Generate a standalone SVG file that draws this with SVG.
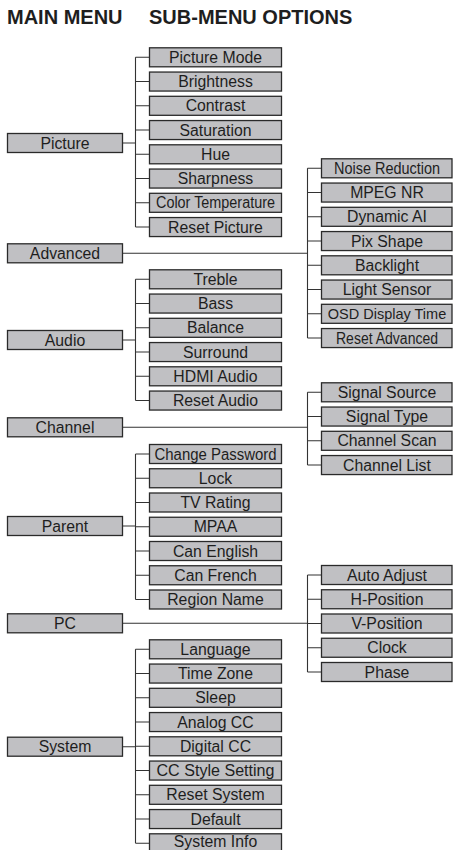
<svg xmlns="http://www.w3.org/2000/svg" width="453" height="850" viewBox="0 0 453 850">
<style>
.hdr{font-family:"Liberation Sans",Arial,sans-serif;font-weight:bold;font-size:20px;fill:#1e1e1e}
.box{fill:#c0c0c3;stroke:#2a2a2a;stroke-width:1.3}
.t{font-family:"Liberation Sans",Arial,sans-serif;font-size:15.8px;fill:#1e1e1e;text-anchor:middle}
.c{fill:none;stroke:#333;stroke-width:1.1}
</style>
<rect width="453" height="850" fill="#ffffff"/>
<text class="hdr" x="7" y="24">MAIN MENU</text>
<text class="hdr" x="149" y="24">SUB-MENU OPTIONS</text>

<g id="connectors">
<path class="c" d="M123 143H135.5M135.5 57.3V227.05M135.5 57.3H149M135.5 81.55H149M135.5 105.8H149M135.5 130.05H149M135.5 154.3H149M135.5 178.55H149M135.5 202.8H149M135.5 227.05H149"/>
<path class="c" d="M123 253.3H307.5M307.5 168.3V338.05M307.5 168.3H321M307.5 192.55H321M307.5 216.8H321M307.5 241.05H321M307.5 265.3H321M307.5 289.55H321M307.5 313.8H321M307.5 338.05H321"/>
<path class="c" d="M123 340H135.5M135.5 279.3V400.55M135.5 279.3H149M135.5 303.55H149M135.5 327.8H149M135.5 352.05H149M135.5 376.3H149M135.5 400.55H149"/>
<path class="c" d="M123 427.3H307.5M307.5 392.3V465.05M307.5 392.3H321M307.5 416.55H321M307.5 440.8H321M307.5 465.05H321"/>
<path class="c" d="M123 526H135.5M135.5 454V599.5M135.5 454H149M135.5 478.25H149M135.5 502.5H149M135.5 526.75H149M135.5 551H149M135.5 575.25H149M135.5 599.5H149"/>
<path class="c" d="M123 623.3H307.5M307.5 575V672M307.5 575H321M307.5 599.25H321M307.5 623.5H321M307.5 647.75H321M307.5 672H321"/>
<path class="c" d="M123 746.7H135.5M135.5 649.3V843.3M135.5 649.3H149M135.5 673.55H149M135.5 697.8H149M135.5 722.05H149M135.5 746.3H149M135.5 770.55H149M135.5 794.8H149M135.5 819.05H149M135.5 843.3H149"/>
</g>

<!-- Main menu -->
<g id="m-picture"><rect class="box" x="7.5" y="133.5" width="115" height="19"/><text class="t" x="65" y="148.5">Picture</text></g>
<g id="m-advanced"><rect class="box" x="7.5" y="243.8" width="115" height="19"/><text class="t" x="65" y="258.8">Advanced</text></g>
<g id="m-audio"><rect class="box" x="7.5" y="330.5" width="115" height="19"/><text class="t" x="65" y="345.5">Audio</text></g>
<g id="m-channel"><rect class="box" x="7.5" y="417.8" width="115" height="19"/><text class="t" x="65" y="432.8">Channel</text></g>
<g id="m-parent"><rect class="box" x="7.5" y="516.5" width="115" height="19"/><text class="t" x="65" y="531.5">Parent</text></g>
<g id="m-pc"><rect class="box" x="7.5" y="613.8" width="115" height="19"/><text class="t" x="65" y="628.8">PC</text></g>
<g id="m-system"><rect class="box" x="7.5" y="737.2" width="115" height="19"/><text class="t" x="65" y="752.2">System</text></g>

<!-- Picture -->
<g id="s-picture-mode"><rect class="box" x="149.5" y="47.8" width="132" height="19"/><text class="t" x="215.5" y="62.8">Picture Mode</text></g>
<g id="s-brightness"><rect class="box" x="149.5" y="72.05" width="132" height="19"/><text class="t" x="215.5" y="87.05">Brightness</text></g>
<g id="s-contrast"><rect class="box" x="149.5" y="96.3" width="132" height="19"/><text class="t" x="215.5" y="111.3">Contrast</text></g>
<g id="s-saturation"><rect class="box" x="149.5" y="120.55" width="132" height="19"/><text class="t" x="215.5" y="135.55">Saturation</text></g>
<g id="s-hue"><rect class="box" x="149.5" y="144.8" width="132" height="19"/><text class="t" x="215.5" y="159.8">Hue</text></g>
<g id="s-sharpness"><rect class="box" x="149.5" y="169.05" width="132" height="19"/><text class="t" x="215.5" y="184.05">Sharpness</text></g>
<g id="s-color-temp"><rect class="box" x="149.5" y="193.3" width="132" height="19"/><text class="t" x="215.5" y="208.3" textLength="119" lengthAdjust="spacingAndGlyphs">Color Temperature</text></g>
<g id="s-reset-picture"><rect class="box" x="149.5" y="217.55" width="132" height="19"/><text class="t" x="215.5" y="232.55">Reset Picture</text></g>

<!-- Advanced -->
<g id="s-noise"><rect class="box" x="321.5" y="158.8" width="130.5" height="19"/><text class="t" x="387" y="173.8" textLength="106" lengthAdjust="spacingAndGlyphs">Noise Reduction</text></g>
<g id="s-mpeg"><rect class="box" x="321.5" y="183.05" width="130.5" height="19"/><text class="t" x="387" y="198.05">MPEG NR</text></g>
<g id="s-dynamic"><rect class="box" x="321.5" y="207.3" width="130.5" height="19"/><text class="t" x="387" y="222.3">Dynamic AI</text></g>
<g id="s-pix"><rect class="box" x="321.5" y="231.55" width="130.5" height="19"/><text class="t" x="387" y="246.55">Pix Shape</text></g>
<g id="s-backlight"><rect class="box" x="321.5" y="255.8" width="130.5" height="19"/><text class="t" x="387" y="270.8">Backlight</text></g>
<g id="s-light"><rect class="box" x="321.5" y="280.05" width="130.5" height="19"/><text class="t" x="387" y="295.05">Light Sensor</text></g>
<g id="s-osd"><rect class="box" x="321.5" y="304.3" width="130.5" height="19"/><text class="t" x="387" y="319" style="font-size:14.5px">OSD Display Time</text></g>
<g id="s-reset-adv"><rect class="box" x="321.5" y="328.55" width="130.5" height="19"/><text class="t" x="387" y="343.55" textLength="102" lengthAdjust="spacingAndGlyphs">Reset Advanced</text></g>

<!-- Audio -->
<g id="s-treble"><rect class="box" x="149.5" y="269.8" width="132" height="19"/><text class="t" x="215.5" y="284.8">Treble</text></g>
<g id="s-bass"><rect class="box" x="149.5" y="294.05" width="132" height="19"/><text class="t" x="215.5" y="309.05">Bass</text></g>
<g id="s-balance"><rect class="box" x="149.5" y="318.3" width="132" height="19"/><text class="t" x="215.5" y="333.3">Balance</text></g>
<g id="s-surround"><rect class="box" x="149.5" y="342.55" width="132" height="19"/><text class="t" x="215.5" y="357.55">Surround</text></g>
<g id="s-hdmi"><rect class="box" x="149.5" y="366.8" width="132" height="19"/><text class="t" x="215.5" y="381.8">HDMI Audio</text></g>
<g id="s-reset-audio"><rect class="box" x="149.5" y="391.05" width="132" height="19"/><text class="t" x="215.5" y="406.05">Reset Audio</text></g>

<!-- Channel -->
<g id="s-sig-source"><rect class="box" x="321.5" y="382.8" width="130.5" height="19"/><text class="t" x="387" y="397.8">Signal Source</text></g>
<g id="s-sig-type"><rect class="box" x="321.5" y="407.05" width="130.5" height="19"/><text class="t" x="387" y="422.05">Signal Type</text></g>
<g id="s-ch-scan"><rect class="box" x="321.5" y="431.3" width="130.5" height="19"/><text class="t" x="387" y="446.3">Channel Scan</text></g>
<g id="s-ch-list"><rect class="box" x="321.5" y="455.55" width="130.5" height="19"/><text class="t" x="387" y="470.55">Channel List</text></g>

<!-- Parent -->
<g id="s-change-pw"><rect class="box" x="149.5" y="444.5" width="132" height="19"/><text class="t" x="215.5" y="459.5" textLength="122" lengthAdjust="spacingAndGlyphs">Change Password</text></g>
<g id="s-lock"><rect class="box" x="149.5" y="468.75" width="132" height="19"/><text class="t" x="215.5" y="483.75">Lock</text></g>
<g id="s-tv-rating"><rect class="box" x="149.5" y="493" width="132" height="19"/><text class="t" x="215.5" y="508">TV Rating</text></g>
<g id="s-mpaa"><rect class="box" x="149.5" y="517.25" width="132" height="19"/><text class="t" x="215.5" y="532.25">MPAA</text></g>
<g id="s-can-en"><rect class="box" x="149.5" y="541.5" width="132" height="19"/><text class="t" x="215.5" y="556.5">Can English</text></g>
<g id="s-can-fr"><rect class="box" x="149.5" y="565.75" width="132" height="19"/><text class="t" x="215.5" y="580.75">Can French</text></g>
<g id="s-region"><rect class="box" x="149.5" y="590" width="132" height="19"/><text class="t" x="215.5" y="605">Region Name</text></g>

<!-- PC -->
<g id="s-auto-adj"><rect class="box" x="321.5" y="565.5" width="130.5" height="19"/><text class="t" x="387" y="580.5">Auto Adjust</text></g>
<g id="s-hpos"><rect class="box" x="321.5" y="589.75" width="130.5" height="19"/><text class="t" x="387" y="604.75">H-Position</text></g>
<g id="s-vpos"><rect class="box" x="321.5" y="614" width="130.5" height="19"/><text class="t" x="387" y="629">V-Position</text></g>
<g id="s-clock"><rect class="box" x="321.5" y="638.25" width="130.5" height="19"/><text class="t" x="387" y="653.25">Clock</text></g>
<g id="s-phase"><rect class="box" x="321.5" y="662.5" width="130.5" height="19"/><text class="t" x="387" y="677.5">Phase</text></g>

<!-- System -->
<g id="s-language"><rect class="box" x="149.5" y="639.8" width="132" height="19"/><text class="t" x="215.5" y="654.8">Language</text></g>
<g id="s-timezone"><rect class="box" x="149.5" y="664.05" width="132" height="19"/><text class="t" x="215.5" y="679.05">Time Zone</text></g>
<g id="s-sleep"><rect class="box" x="149.5" y="688.3" width="132" height="19"/><text class="t" x="215.5" y="703.3">Sleep</text></g>
<g id="s-analog-cc"><rect class="box" x="149.5" y="712.55" width="132" height="19"/><text class="t" x="215.5" y="727.55">Analog CC</text></g>
<g id="s-digital-cc"><rect class="box" x="149.5" y="736.8" width="132" height="19"/><text class="t" x="215.5" y="751.8">Digital CC</text></g>
<g id="s-cc-style"><rect class="box" x="149.5" y="761.05" width="132" height="19"/><text class="t" x="215.5" y="776.05" textLength="118" lengthAdjust="spacingAndGlyphs">CC Style Setting</text></g>
<g id="s-reset-sys"><rect class="box" x="149.5" y="785.3" width="132" height="19"/><text class="t" x="215.5" y="800.3">Reset System</text></g>
<g id="s-default"><rect class="box" x="149.5" y="809.55" width="132" height="19"/><text class="t" x="215.5" y="824.55">Default</text></g>
<g id="s-sys-info"><rect class="box" x="149.5" y="833.8" width="132" height="19"/><text class="t" x="215.5" y="847">System Info</text></g>
</svg>
